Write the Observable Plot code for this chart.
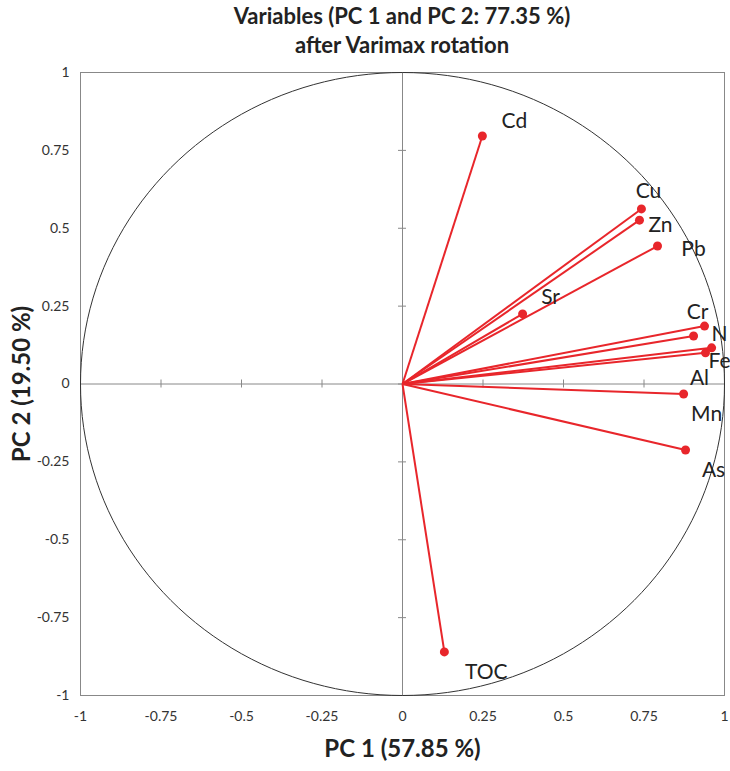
<!DOCTYPE html>
<html>
<head>
<meta charset="utf-8">
<script src="https://cdn.jsdelivr.net/npm/d3@7"></script>
<script src="https://cdn.jsdelivr.net/npm/@observablehq/plot@0.6"></script>
<style>
  html, body { margin: 0; padding: 0; background: #fff; }
  #title { width: 730px; box-sizing: border-box; padding-left: 80px; padding-right: 6px; height: 60px;
    text-align: center; font-family: Lato, "Open Sans", sans-serif; font-weight: 700; font-size: 22px;
    line-height: 29px; color: #222; padding-top: 1px; }
</style>
</head>
<body>
<div id="title">Variables (PC 1 and PC 2: 77.35 %)<br>after Varimax rotation</div>
<div id="chart"></div>
<script>
const variables = ["Cd", "Cu", "Zn", "Pb", "Sr", "Cr", "Ni", "Fe", "Al", "Mn", "As", "TOC"];
const labels    = ["Cd", "Cu", "Zn", "Pb", "Sr", "Cr", "N", "Fe", "Al", "Mn", "As", "TOC"];
const pc1 = [0.248, 0.742, 0.736, 0.792, 0.373, 0.904, 0.938, 0.960, 0.941, 0.873, 0.879, 0.130];
const pc2 = [0.796, 0.562, 0.526, 0.443, 0.225, 0.154, 0.186, 0.116, 0.100, -0.032, -0.212, -0.860];
// label offsets in pixels (style only)
const labelDx = [32, 7, 21, 36, 28, 4, 15, 8, -6, 23, 28, 42];
const labelDy = [-15, -18, 5, 3, -17, -24, 8, 13, 25, 20, 20, 20];
const tickValues = [-1, -0.75, -0.5, -0.25, 0, 0.25, 0.5, 0.75, 1];

const data = variables.map((v, i) => ({name: v, label: labels[i], x: pc1[i], y: pc2[i], dx: labelDx[i], dy: labelDy[i]}));
const circle = d3.range(0, 361, 2).map(a => ({x: Math.cos(a * Math.PI / 180), y: Math.sin(a * Math.PI / 180)}));
const fmt = d => String(d);

const chart = Plot.plot({
  width: 730,
  height: 711,
  marginLeft: 80,
  marginRight: 6,
  marginTop: 12,
  marginBottom: 76,
  style: {fontFamily: "Lato, 'Open Sans', sans-serif", fontSize: "14px", color: "#333", background: "#fff"},
  x: {domain: [-1, 1], ticks: tickValues, tickFormat: fmt, tickSize: 0, tickPadding: 16, label: null},
  y: {domain: [-1, 1], ticks: tickValues, tickFormat: fmt, tickSize: 0, tickPadding: 11, label: null},
  marks: [
    Plot.frame({stroke: "#888", strokeWidth: 1}),
    Plot.ruleX([0], {stroke: "#888"}),
    Plot.ruleY([0], {stroke: "#888"}),
    Plot.ruleX(tickValues, {x: d => d, y1: () => 0, y2: () => 0, insetTop: -4, insetBottom: -4, stroke: "#888"}),
    Plot.ruleY(tickValues, {y: d => d, x1: () => 0, x2: () => 0, insetLeft: -4, insetRight: -4, stroke: "#888"}),
    Plot.line(circle, {x: "x", y: "y", stroke: "#333", strokeWidth: 1, curve: "linear"}),
    Plot.link(data, {x1: () => 0, y1: () => 0, x2: "x", y2: "y", stroke: "#e8262b", strokeWidth: 2}),
    Plot.dot(data, {x: "x", y: "y", r: 4.5, fill: "#e8262b", stroke: "none"}),
    ...data.map(d => Plot.text([d], {x: "x", y: "y", text: "label", dx: d.dx, dy: d.dy, fontSize: 21, fill: "#222", fontFamily: "Lato, 'Open Sans', sans-serif"})),
    Plot.text(["PC 1 (57.85 %)"], {frameAnchor: "bottom", textAnchor: "middle", dy: 61, text: d => d, fontSize: 24, fontWeight: "bold", fill: "#222"}),
    Plot.text(["PC 2 (19.50 %)"], {frameAnchor: "left", textAnchor: "middle", dx: -58, rotate: -90, text: d => d, fontSize: 24, fontWeight: "bold", fill: "#222"})
  ]
});
chart.style.overflow = "visible";
document.getElementById("chart").appendChild(chart);
</script>
</body>
</html>
